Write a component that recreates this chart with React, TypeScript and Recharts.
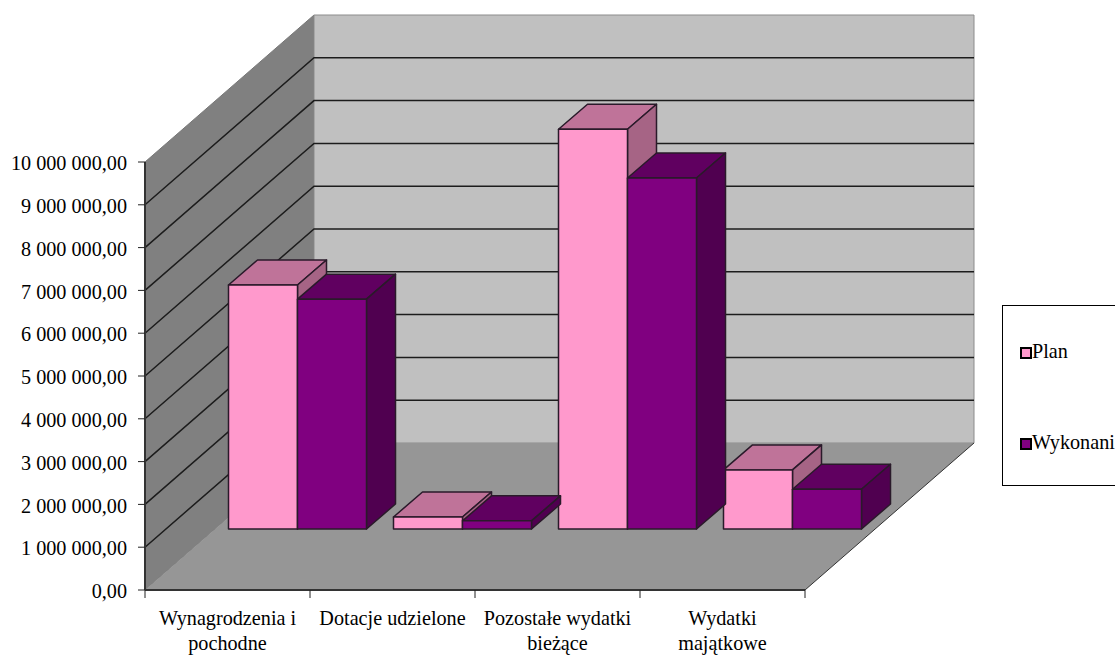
import React from "react";
import {
  BarChart,
  Bar,
  XAxis,
  YAxis,
  Legend,
  ReferenceArea,
} from "recharts";

const categories = [
  "Wynagrodzenia i\npochodne",
  "Dotacje udzielone",
  "Pozostałe wydatki\nbieżące",
  "Wydatki\nmajątkowe",
];
const planValues = [5700000, 280000, 9340000, 1380000];
const wykonanieValues = [5370000, 190000, 8200000, 930000];
const yTicks = [
  0, 1000000, 2000000, 3000000, 4000000, 5000000, 6000000, 7000000, 8000000,
  9000000, 10000000,
];

const chartData = categories.map((name, i) => ({
  name,
  plan: planValues[i],
  wykonanie: wykonanieValues[i],
}));

const FONT = "'Liberation Serif', serif";
const FONT_SIZE = 20.2;

// depth of the floor and walls
const WALL_DX = 169;
const WALL_DY = 147;
// where the bars stand on the floor, relative to the front edge
const BAR_DX = 69.5;
const BAR_DY = 61;
// depth of one bar
const BOX_DX = 29;
const BOX_DY = 25;
const BAND = 165;

const formatTick = (v: number) => {
  const whole = String(v).replace(/\B(?=(\d{3})+$)/g, " ");
  return `${whole},00`;
};

const Walls = ({ x, y, width, height }: any) => {
  const bottom = y + height;
  return (
    <g>
      <polygon
        points={`${x},${bottom} ${x},${y} ${x + WALL_DX},${y - WALL_DY} ${x + WALL_DX},${bottom - WALL_DY}`}
        fill="#808080"
        stroke="#777"
      />
      <polygon
        points={`${x + WALL_DX},${y - WALL_DY} ${x + width + WALL_DX},${y - WALL_DY} ${x + width + WALL_DX},${bottom - WALL_DY} ${x + WALL_DX},${bottom - WALL_DY}`}
        fill="#C0C0C0"
        stroke="#8c8c8c"
      />
      <polygon
        points={`${x},${bottom} ${x + width},${bottom} ${x + width + WALL_DX},${bottom - WALL_DY} ${x + WALL_DX},${bottom - WALL_DY}`}
        fill="#969696"
      />
      <line
        x1={x + width}
        y1={bottom}
        x2={x + width + WALL_DX}
        y2={bottom - WALL_DY}
        stroke="#333"
      />
    </g>
  );
};

// zero-height reference area, so the grid stays behind the bars
const GridLine = ({ x, y, width }: any) => (
  <polyline
    points={`${x},${y} ${x + WALL_DX},${y - WALL_DY} ${x + width + WALL_DX},${y - WALL_DY}`}
    fill="none"
    stroke="#1c1c1c"
    strokeWidth={1.5}
  />
);

const Box = ({ x, y, width, height, fill, topFill, sideFill }: any) => {
  const left = x + BAR_DX;
  const right = left + width;
  const top = y - BAR_DY;
  const bottom = y + height - BAR_DY;
  return (
    <g stroke="#2a1a2a" strokeWidth={1.5} strokeLinejoin="round">
      <polygon
        points={`${left},${top} ${right},${top} ${right + BOX_DX},${top - BOX_DY} ${left + BOX_DX},${top - BOX_DY}`}
        fill={topFill}
      />
      <polygon
        points={`${right},${top} ${right + BOX_DX},${top - BOX_DY} ${right + BOX_DX},${bottom - BOX_DY} ${right},${bottom}`}
        fill={sideFill}
      />
      <rect x={left} y={top} width={width} height={height} fill={fill} />
    </g>
  );
};

const CategoryTick = ({ x, y, payload, index }: any) => {
  const lines = String(payload.value).split("\n");
  return (
    <g>
      <line x1={x - BAND / 2} y1={y - 8} x2={x - BAND / 2} y2={y} stroke="#222" />
      {index === categories.length - 1 && (
        <line x1={x + BAND / 2} y1={y - 8} x2={x + BAND / 2} y2={y} stroke="#222" />
      )}
      <text
        x={x}
        y={y + 27}
        textAnchor="middle"
        fontFamily={FONT}
        fontSize={FONT_SIZE}
        fill="#000"
      >
        {lines.map((line, i) => (
          <tspan key={i} x={x} dy={i === 0 ? 0 : 25}>
            {line}
          </tspan>
        ))}
      </text>
    </g>
  );
};

const LegendBox = ({ payload }: any) => (
  <div
    style={{
      width: 140,
      height: 181,
      boxSizing: "border-box",
      border: "1px solid #000",
      background: "#fff",
      fontFamily: FONT,
      fontSize: FONT_SIZE,
      position: "relative",
    }}
  >
    {(payload || []).map((entry: any, i: number) => (
      <div
        key={entry.value}
        style={{
          position: "absolute",
          left: 17,
          top: i === 0 ? 33 : 124,
          height: 24,
          lineHeight: "24px",
          whiteSpace: "nowrap",
        }}
      >
        <span
          style={{
            display: "inline-block",
            width: 8,
            height: 8,
            border: "2px solid #000",
            background: entry.color,
            marginRight: 0,
            verticalAlign: "-1px",
          }}
        />
        {entry.value}
      </div>
    ))}
  </div>
);

export default function App() {
  return (
    <div
      style={{
        position: "absolute",
        left: 0,
        top: 0,
        width: 1115,
        height: 655,
        overflow: "hidden",
        background: "#fff",
      }}
    >
      <BarChart
        width={1115}
        height={655}
        data={chartData}
        margin={{ top: 162, right: 310, bottom: 0, left: 0 }}
        barSize={69}
        barGap={0}
      >
        <XAxis
          dataKey="name"
          height={65}
          interval={0}
          axisLine={{ stroke: "#333", strokeWidth: 2 }}
          tickLine={false}
          tick={<CategoryTick />}
        />
        <YAxis
          width={145}
          domain={[0, 10000000]}
          ticks={yTicks}
          interval={0}
          tickFormatter={formatTick}
          axisLine={{ stroke: "#333", strokeWidth: 2 }}
          tickLine={{ stroke: "#222" }}
          tickSize={7}
          tickMargin={11}
          tick={{ fontFamily: FONT, fontSize: FONT_SIZE, fill: "#000", dy: 1 }}
        />
        <ReferenceArea y1={0} y2={10000000} shape={<Walls />} ifOverflow="visible" />
        {yTicks.slice(1, -1).map((t) => (
          <ReferenceArea key={t} y1={t} y2={t} shape={<GridLine />} ifOverflow="visible" />
        ))}
        <Legend
          layout="horizontal"
          verticalAlign="middle"
          wrapperStyle={{ position: "absolute", left: 1002, top: 305, width: 140, bottom: "auto", right: "auto" }}
          content={<LegendBox />}
        />
        <Bar
          dataKey="plan"
          name="Plan"
          fill="#FF99CC"
          isAnimationActive={false}
          shape={(p: any) => <Box {...p} fill="#FF99CC" topFill="#BF7399" sideFill="#A66485" />}
        />
        <Bar
          dataKey="wykonanie"
          name="Wykonanie"
          fill="#800080"
          isAnimationActive={false}
          shape={(p: any) => <Box {...p} fill="#800080" topFill="#600060" sideFill="#500050" />}
        />
      </BarChart>
    </div>
  );
}
